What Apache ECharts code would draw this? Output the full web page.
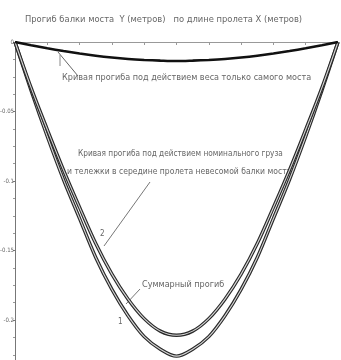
<!DOCTYPE html>
<html>
<head>
<meta charset="utf-8">
<script src="https://cdn.jsdelivr.net/npm/echarts@6/dist/echarts.min.js"></script>
<style>
  html, body { margin: 0; padding: 0; background: #fff; }
  #chart { width: 341px; height: 360px; }
</style>
</head>
<body>
<div id="chart"></div>
<script>
// Span positions X along the bridge (metres)
var spanX = [0, 5, 10, 15, 20, 25, 30, 35, 40, 45, 50, 55, 60, 65, 70, 75, 80, 85, 90, 95, 100];

// Deflection Y (metres) under the bridge's own weight only
var selfWeight = [0, -0.0023, -0.0045, -0.0065, -0.0083, -0.0099, -0.0112, -0.0122, -0.0129, -0.0134, -0.0137,
                  -0.0134, -0.0129, -0.0122, -0.0112, -0.0099, -0.0083, -0.0065, -0.0045, -0.0023, 0];

// Curve 2: nominal load and trolley at mid-span on a weightless beam
var loadOnly = [0, -0.033, -0.063, -0.092, -0.119, -0.145, -0.167, -0.185, -0.199, -0.208, -0.211,
                -0.208, -0.199, -0.185, -0.167, -0.145, -0.119, -0.092, -0.063, -0.033, 0];

// Curve 1: total deflection
var totalDefl = [0, -0.035, -0.068, -0.099, -0.127, -0.155, -0.178, -0.197, -0.212, -0.221, -0.226,
                 -0.221, -0.212, -0.197, -0.178, -0.155, -0.127, -0.099, -0.068, -0.035, 0];

// Y tick labels
var yTicks = [0, -0.05, -0.1, -0.15, -0.2];

function pairs(ys) { return spanX.map(function (x, i) { return [x, ys[i]]; }); }

var FONT = '"Liberation Sans Narrow", "Arial Narrow", "DejaVu Sans Condensed", sans-serif';
var TXT = '#666';

function hollow(name, ys, z) {
  return [
    { name: name, type: 'line', data: pairs(ys), smooth: 0.35, symbol: 'none', z: z,
      lineStyle: { color: '#2a2a2a', width: 3.4 } },
    { name: name + '-core', type: 'line', data: pairs(ys), smooth: 0.35, symbol: 'none', z: z + 1,
      lineStyle: { color: '#d6d6d6', width: 1.1 } }
  ];
}

var chart = echarts.init(document.getElementById('chart'), null, { renderer: 'canvas' });
chart.setOption({
  animation: false,
  backgroundColor: '#fff',
  // the value axis runs to -0.25; the lower part falls below the page edge
  grid: { left: 15, right: 3, top: 42, bottom: -29.5, containLabel: false, outerBoundsMode: 'none' },
  xAxis: {
    type: 'value', min: 0, max: 100, interval: 10, position: 'top',
    axisLine: { onZero: false, lineStyle: { color: '#999', width: 1 } },
    axisTick: { inside: true, length: 3, lineStyle: { color: '#999' } },
    axisLabel: { show: false },
    splitLine: { show: false }
  },
  yAxis: {
    type: 'value', min: -0.25, max: 0, interval: 0.05,
    axisLine: { show: true, lineStyle: { color: '#777', width: 1 } },
    axisTick: { show: true, length: 2, lineStyle: { color: '#777' } },
    minorTick: { show: true, splitNumber: 4, length: 2, lineStyle: { color: '#999' } },
    splitLine: { show: false },
    axisLabel: {
      margin: 1, fontSize: 6, color: TXT, fontFamily: FONT,
      formatter: function (v) {
        for (var i = 0; i < yTicks.length; i++) {
          if (Math.abs(v - yTicks[i]) < 1e-9) return String(yTicks[i]);
        }
        return '';
      }
    }
  },
  series: [].concat(
    hollow('Суммарный прогиб', totalDefl, 2),
    hollow('Номинальный груз', loadOnly, 4),
    [{ name: 'Вес моста', type: 'line', data: pairs(selfWeight), smooth: 0.35, symbol: 'none', z: 6,
       lineStyle: { color: '#111', width: 2.6 } }]
  ),
  graphic: [
    { type: 'text', left: 25, top: 15, style: { text: 'Прогиб балки моста  Y (метров)   по длине пролета X (метров)', font: '9.3px ' + FONT, fill: TXT } },
    { type: 'text', left: 62, top: 73, style: { text: 'Кривая прогиба под действием веса только самого моста', font: '9px ' + FONT, fill: TXT } },
    { type: 'line', shape: { x1: 58, y1: 52, x2: 78, y2: 76 }, style: { stroke: '#666', lineWidth: 1 } },
    { type: 'line', shape: { x1: 60, y1: 55, x2: 60, y2: 66 }, style: { stroke: '#888', lineWidth: 1 } },
    { type: 'text', left: 78, top: 150, style: { text: 'Кривая прогиба под действием номинального груза', font: '8.2px ' + FONT, fill: TXT } },
    { type: 'text', left: 67, top: 167, style: { text: 'и тележки в середине пролета невесомой балки моста', font: '8.5px ' + FONT, fill: TXT } },
    { type: 'line', shape: { x1: 150, y1: 182, x2: 104, y2: 246 }, style: { stroke: '#777', lineWidth: 1 } },
    { type: 'text', left: 100, top: 230, style: { text: '2', font: '8px ' + FONT, fill: TXT } },
    { type: 'text', left: 142, top: 280, style: { text: 'Суммарный прогиб', font: '9px ' + FONT, fill: TXT } },
    { type: 'line', shape: { x1: 140, y1: 289, x2: 126, y2: 304 }, style: { stroke: '#777', lineWidth: 1 } },
    { type: 'text', left: 118, top: 318, style: { text: '1', font: '8px ' + FONT, fill: TXT } }
  ]
});
</script>
</body>
</html>
